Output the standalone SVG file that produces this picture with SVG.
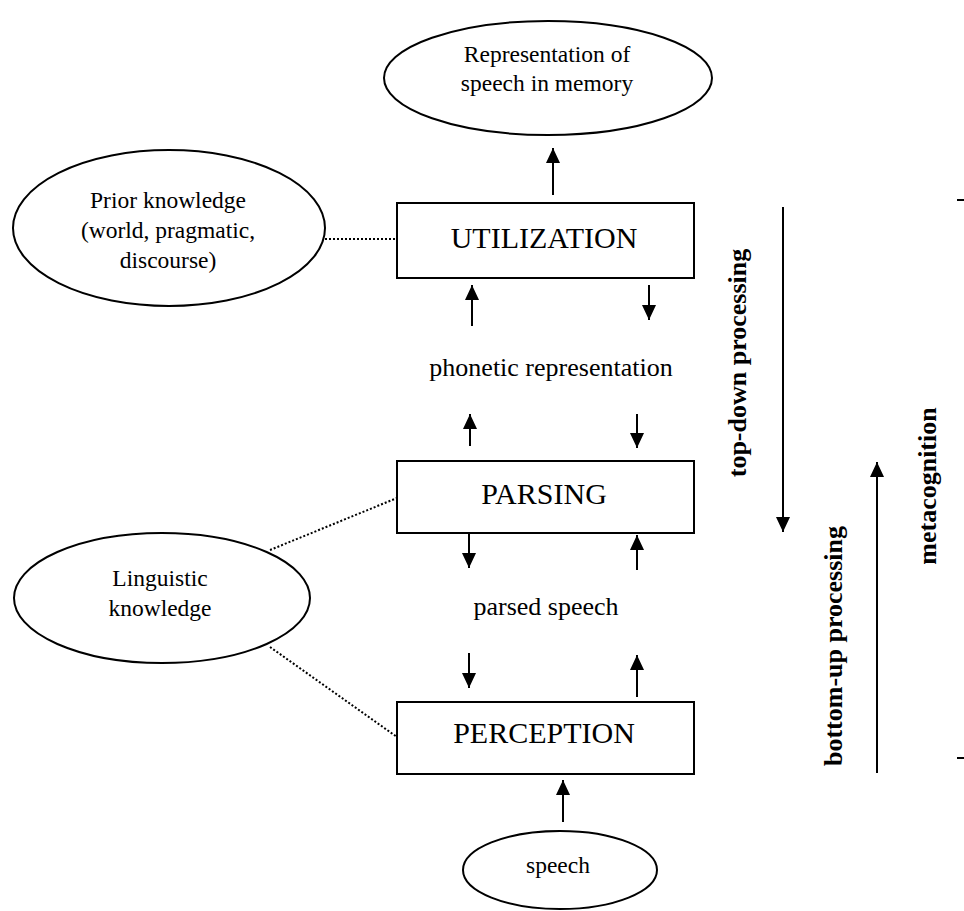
<svg xmlns="http://www.w3.org/2000/svg" width="964" height="911" viewBox="0 0 964 911">
<style>
.sh{fill:#fff;stroke:#000;stroke-width:2}
.t{font-family:"Liberation Serif","Times New Roman",serif;fill:#000;text-anchor:middle}
.e{font-size:23.5px}
.m{font-size:26px}
.b{font-size:30px}
.r{font-size:26px;font-weight:bold}
.ar{stroke:#000;stroke-width:2;fill:none;marker-end:url(#ah)}
.dot{stroke:#000;stroke-width:2;stroke-dasharray:2 2;fill:none}
.tk{stroke:#000;stroke-width:2}
</style>
<defs>
<marker id="ah" markerUnits="userSpaceOnUse" markerWidth="15" markerHeight="14" refX="15" refY="7" orient="auto">
<path d="M0,0 L15,7 L0,14 z" fill="#000"/>
</marker>
</defs>
<rect width="964" height="911" fill="#fff"/>
<g id="connectors">
<line class="ar" x1="553" y1="195" x2="553" y2="148"/>
<line class="ar" x1="472" y1="326" x2="472" y2="285"/>
<line class="ar" x1="649" y1="285" x2="649" y2="320"/>
<line class="ar" x1="470" y1="446" x2="470" y2="414"/>
<line class="ar" x1="637" y1="414" x2="637" y2="448"/>
<line class="ar" x1="469" y1="534" x2="469" y2="568"/>
<line class="ar" x1="637" y1="570" x2="637" y2="535"/>
<line class="ar" x1="469" y1="653" x2="469" y2="688"/>
<line class="ar" x1="637" y1="697" x2="637" y2="655"/>
<line class="ar" x1="563" y1="822" x2="563" y2="780"/>
<line class="dot" x1="325" y1="239" x2="397" y2="239"/>
<line class="dot" x1="270" y1="550" x2="397" y2="498"/>
<line class="dot" x1="270" y1="647" x2="397" y2="737"/>
<line class="ar" x1="783" y1="207" x2="783" y2="532"/>
<line class="ar" x1="877" y1="773" x2="877" y2="462"/>
<line class="tk" x1="957" y1="200" x2="964" y2="200"/>
<line class="tk" x1="957" y1="758" x2="964" y2="758"/>
</g>
<g id="memory">
<ellipse class="sh" cx="548" cy="78" rx="164" ry="57"/>
<text class="t e" x="547" y="62">Representation of</text>
<text class="t e" x="547" y="91">speech in memory</text>
</g>
<g id="prior">
<ellipse class="sh" cx="169" cy="228" rx="156" ry="78"/>
<text class="t e" x="168" y="208">Prior knowledge</text>
<text class="t e" x="168" y="238">(world, pragmatic,</text>
<text class="t e" x="168" y="268">discourse)</text>
</g>
<g id="utilization">
<rect class="sh" x="397" y="203" width="297" height="75"/>
<text class="t b" x="544" y="248">UTILIZATION</text>
</g>
<g id="phonetic">
<text class="t m" x="551" y="376">phonetic representation</text>
</g>
<g id="parsing">
<rect class="sh" x="397" y="461" width="297" height="72"/>
<text class="t b" x="544" y="504">PARSING</text>
</g>
<g id="parsed">
<text class="t m" x="546" y="615">parsed speech</text>
</g>
<g id="linguistic">
<ellipse class="sh" cx="162" cy="598" rx="148" ry="65"/>
<text class="t e" x="160" y="586">Linguistic</text>
<text class="t e" x="160" y="616">knowledge</text>
</g>
<g id="perception">
<rect class="sh" x="397" y="702" width="297" height="72"/>
<text class="t b" x="544" y="743">PERCEPTION</text>
</g>
<g id="speech">
<ellipse class="sh" cx="560" cy="870" rx="97" ry="39"/>
<text class="t e" x="558" y="873">speech</text>
</g>
<g id="topdown">
<text class="t r" x="746" y="363" transform="rotate(-90 746 363)">top-down processing</text>
</g>
<g id="bottomup">
<text class="t r" x="842" y="646" transform="rotate(-90 842 646)">bottom-up processing</text>
</g>
<g id="metacognition">
<text class="t r" x="936" y="486" transform="rotate(-90 936 486)">metacognition</text>
</g>
</svg>
